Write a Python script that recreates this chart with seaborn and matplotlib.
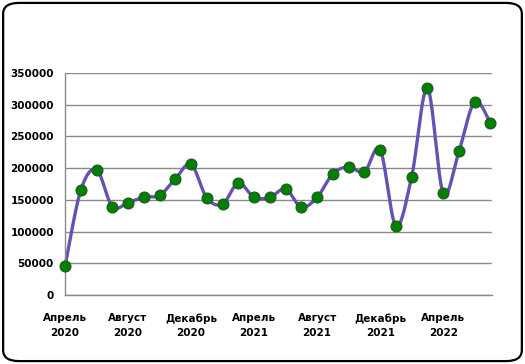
import numpy as np
import pandas as pd
import matplotlib.pyplot as plt
import seaborn as sns
from matplotlib.patches import FancyBboxPatch

# monthly values, April 2020 .. July 2022
months = list(range(28))
values = [45000, 165000, 197500, 139500, 145500, 154500, 157000, 183000,
          206000, 153000, 143500, 176500, 154000, 154000, 167000, 138500,
          154000, 191000, 202000, 194000, 229000, 109000, 186500, 326000,
          160500, 226500, 304500, 271000]
tick_pos = [0, 4, 8, 12, 16, 20, 24]
tick_labels = ["Апрель\n2020", "Август\n2020", "Декабрь\n2020", "Апрель\n2021",
               "Август\n2021", "Декабрь\n2021", "Апрель\n2022"]
y_ticks = [0, 50000, 100000, 150000, 200000, 250000, 300000, 350000]

df = pd.DataFrame({"month": months, "value": values})


def smooth(x, y, n=20):
    # Bezier smoothing like a spreadsheet "smoothed line"
    x = np.asarray(x, float)
    y = np.asarray(y, float)
    px = np.concatenate([[x[0]], x, [x[-1]]])
    py = np.concatenate([[y[0]], y, [y[-1]]])
    xs, ys = [], []
    t = np.linspace(0, 1, n, endpoint=False)
    for i in range(1, len(px) - 2):
        p0 = np.array([px[i], py[i]])
        p3 = np.array([px[i + 1], py[i + 1]])
        p1 = p0 + (np.array([px[i + 1], py[i + 1]]) - np.array([px[i - 1], py[i - 1]])) / 6
        p2 = p3 - (np.array([px[i + 2], py[i + 2]]) - np.array([px[i], py[i]])) / 6
        b = ((1 - t) ** 3)[:, None] * p0 + (3 * (1 - t) ** 2 * t)[:, None] * p1 \
            + (3 * (1 - t) * t ** 2)[:, None] * p2 + (t ** 3)[:, None] * p3
        xs.extend(b[:, 0])
        ys.extend(b[:, 1])
    xs.append(x[-1])
    ys.append(y[-1])
    return pd.DataFrame({"month": xs, "value": ys})


curve = smooth(months, values)

sns.set_style("white")
plt.rcParams["font.family"] = ["DejaVu Sans"]

fig = plt.figure(figsize=(5.25, 3.64), dpi=100)
fig.patches.append(FancyBboxPatch((0.006, 0.008), 0.988, 0.984,
                                  boxstyle="round,pad=0,rounding_size=0.03",
                                  transform=fig.transFigure, fill=False,
                                  edgecolor="black", linewidth=1.6))
ax = fig.add_axes([65 / 525, 1 - 295 / 364, 427 / 525, 222 / 364])

sns.lineplot(data=curve, x="month", y="value", ax=ax, color="#6452B4",
             linewidth=2.4, sort=False, estimator=None)
sns.scatterplot(data=df, x="month", y="value", ax=ax, color="#008000",
                edgecolor="#1f5a1f", linewidth=0.8, s=62, zorder=5,
                clip_on=False)
for ln in ax.lines:
    ln.set_clip_on(False)

ax.set_xlim(0, 27.1)
ax.set_ylim(0, 350000)
ax.set_yticks(y_ticks)
ax.set_yticklabels([str(v) for v in y_ticks], fontsize=7.5, fontweight="bold")
ax.set_xticks(tick_pos)
ax.set_xticklabels(tick_labels, fontsize=7.5, fontweight="bold", linespacing=1.6)
ax.set_xlabel("")
ax.set_ylabel("")
ax.grid(axis="y", color="#8a8a8a", linewidth=1)
ax.set_axisbelow(True)
for s in ["top", "right"]:
    ax.spines[s].set_visible(False)
for s in ["left", "bottom"]:
    ax.spines[s].set_color("#8a8a8a")
    ax.spines[s].set_linewidth(1)
ax.tick_params(axis="both", direction="out", length=4, color="#8a8a8a", width=1,
               labelcolor="black")
ax.tick_params(axis="x", pad=9)
ax.tick_params(axis="y", pad=4)

fig.savefig("out.png", dpi=100)
